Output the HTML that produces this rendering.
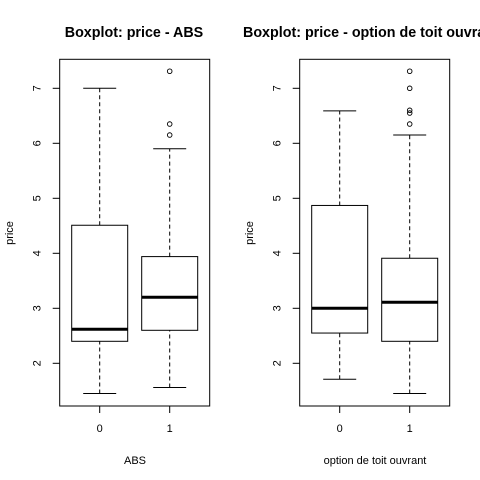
<!DOCTYPE html>
<html><head><meta charset="utf-8"><style>body{margin:0;background:#fff}svg{display:block}text{font-family:"Liberation Sans",Arial,sans-serif}</style></head>
<body>
<svg id="c" width="480" height="480" viewBox="0 0 480 480">
<text x="134" y="37" font-size="14.3" font-weight="bold" text-anchor="middle">Boxplot: price - ABS</text>
<text x="243" y="37" font-size="14.3" font-weight="bold">Boxplot: price - option de toit ouvrant</text>
</svg>
<script>
const xTitles=["ABS","option de toit ouvrant"];
const categories=["0","1"];
const yTicks=[2,3,4,5,6,7];
// [low whisker, Q1, median, Q3, high whisker]
const statsABS=[[1.45,2.4,2.62,4.51,7.0],[1.56,2.6,3.2,3.94,5.9]];
const outliersABS=[[],[6.15,6.35,7.31]];
const statsToit=[[1.71,2.55,3.0,4.87,6.59],[1.45,2.4,3.11,3.91,6.15]];
const outliersToit=[[],[6.35,6.55,6.6,7.0,7.31]];

const svg=document.getElementById('c');
const NS='http://www.w3.org/2000/svg';
function mk(t,a,p){const e=document.createElementNS(NS,t);for(const k in a)e.setAttribute(k,a[k]);(p||svg).appendChild(e);return e;}
const y=v=>363.3-(v-2)*55;
const panels=[{x0:0,s:statsABS,o:outliersABS},{x0:240,s:statsToit,o:outliersToit}];
panels.forEach((P,pi)=>{
  const g=mk('g',{});
  
  
  const L=P.x0+59.7;
  const bx=mk('rect',{x:L,y:59.3,width:150,height:346.7,fill:'none',stroke:'#000','stroke-width':1},g);
  
  
  const yl=mk('text',{x:0,y:0,'font-size':11,'text-anchor':'middle',transform:`translate(${P.x0+13},233) rotate(-90)`},g);
  yl.textContent='price';
  
  
  const xl=mk('text',{x:P.x0+135,y:464,'font-size':11,'text-anchor':'middle'},g);
  xl.textContent=xTitles[pi];
  
  
  yTicks.forEach(v=>{
    mk('line',{x1:L,x2:L-7,y1:y(v),y2:y(v),stroke:'#000'},g);
    const tl=mk('text',{x:0,y:0,'font-size':11,'text-anchor':'middle',transform:`translate(${L-19},${y(v)}) rotate(-90)`},g);
    tl.textContent=v;
    
    
  });
  categories.forEach((c,i)=>{
    const cx=P.x0+99.7+i*70;
    mk('line',{x1:cx,x2:cx,y1:406,y2:413,stroke:'#000'},g);
    const tl=mk('text',{x:cx,y:432,'font-size':11,'text-anchor':'middle'},g);
    tl.textContent=c;
    
    
    const s=P.s[i];
    const bg=mk('g',{},g);
    
    
    mk('line',{x1:cx,x2:cx,y1:y(s[0]),y2:y(s[1]),stroke:'#000','stroke-dasharray':'4,3'},bg);
    mk('line',{x1:cx,x2:cx,y1:y(s[3]),y2:y(s[4]),stroke:'#000','stroke-dasharray':'4,3'},bg);
    mk('line',{x1:cx-16.5,x2:cx+16.5,y1:y(s[0]),y2:y(s[0]),stroke:'#000'},bg);
    mk('line',{x1:cx-16.5,x2:cx+16.5,y1:y(s[4]),y2:y(s[4]),stroke:'#000'},bg);
    mk('rect',{x:cx-28,y:y(s[3]),width:56,height:y(s[1])-y(s[3]),fill:'none',stroke:'#000'},bg);
    mk('line',{x1:cx-28,x2:cx+28,y1:y(s[2]),y2:y(s[2]),stroke:'#000','stroke-width':3},bg);
    P.o[i].forEach(v=>{
      const pt=mk('circle',{cx:cx,cy:y(v),r:2.3,fill:'none',stroke:'#000','stroke-width':0.9},bg);
      
      
    });
  });
});
</script>
</body></html>
